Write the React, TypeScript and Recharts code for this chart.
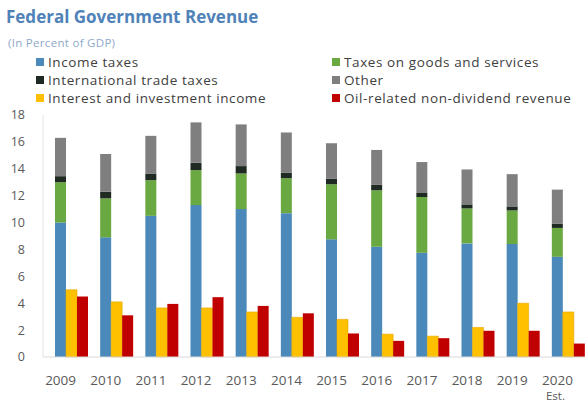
import { BarChart, Bar, XAxis, YAxis } from 'recharts';

const years = ['2009', '2010', '2011', '2012', '2013', '2014', '2015', '2016', '2017', '2018', '2019', '2020'];
const estimateYears = ['2020'];

// stacked parts, bottom to top
const incomeTaxes = [10.0, 8.9, 10.5, 11.3, 11.0, 10.7, 8.75, 8.2, 7.75, 8.45, 8.4, 7.45];
const goodsServices = [3.0, 2.9, 2.65, 2.6, 2.65, 2.6, 4.1, 4.2, 4.15, 2.6, 2.5, 2.15];
const tradeTaxes = [0.45, 0.5, 0.5, 0.55, 0.55, 0.4, 0.4, 0.4, 0.3, 0.3, 0.3, 0.3];
const otherRevenue = [2.85, 2.8, 2.8, 3.0, 3.1, 3.0, 2.65, 2.6, 2.3, 2.6, 2.4, 2.55];

// side bars
const interestIncome = [5.0, 4.1, 3.65, 3.65, 3.35, 2.95, 2.8, 1.7, 1.55, 2.2, 4.0, 3.35];
const oilRevenue = [4.5, 3.1, 3.95, 4.45, 3.8, 3.25, 1.75, 1.2, 1.4, 1.95, 1.95, 1.0];

const yTicks = [0, 2, 4, 6, 8, 10, 12, 14, 16, 18];

const data = years.map((year, i) => ({
  year,
  income: incomeTaxes[i],
  goods: goodsServices[i],
  trade: tradeTaxes[i],
  other: otherRevenue[i],
  interest: interestIncome[i],
  oil: oilRevenue[i],
}));

const colors = {
  income: '#4A89BA',
  goods: '#6AA942',
  trade: '#1F2B22',
  other: '#7F7F7F',
  interest: '#FFC000',
  oil: '#C00000',
};

const legendLeft = [
  { label: 'Income taxes', color: colors.income },
  { label: 'International trade taxes', color: colors.trade },
  { label: 'Interest and investment income', color: colors.interest },
];
const legendRight = [
  { label: 'Taxes on goods and services', color: colors.goods },
  { label: 'Other', color: colors.other },
  { label: 'Oil-related non-dividend revenue', color: colors.oil },
];

const font = '"Open Sans", "Noto Sans", sans-serif';

function YearTick({ x, y, payload }: any) {
  const cx = x - 11;
  return (
    <g>
      <text x={cx} y={y} dy="0.71em" textAnchor="middle" fill="#595959" fontSize={13.5} fontFamily={font}>
        {payload.value}
      </text>
      {estimateYears.includes(payload.value) && (
        <text x={cx - 2} y={y + 17} dy="0.71em" textAnchor="middle" fill="#595959" fontSize={11.5} fontFamily={font}>
          Est.
        </text>
      )}
    </g>
  );
}

function LegendColumn({ items, left }: { items: { label: string; color: string }[]; left: number }) {
  return (
    <div style={{ position: 'absolute', left, top: 53 }}>
      {items.map((it) => (
        <div key={it.label} style={{ display: 'flex', alignItems: 'center', height: 18 }}>
          <span style={{ width: 8, height: 8, background: it.color, marginRight: 4 }} />
          <span style={{ fontSize: 13.5, letterSpacing: 0.6, color: '#404040', fontFamily: font }}>{it.label}</span>
        </div>
      ))}
    </div>
  );
}

export default function App() {
  return (
    <div
      style={{
        position: 'absolute',
        left: 0,
        top: 0,
        width: 585,
        height: 407,
        overflow: 'hidden',
        background: '#fff',
        fontFamily: font,
      }}
    >
      <div style={{ position: 'absolute', left: 6, top: 5, fontSize: 17, fontWeight: 700, color: '#4F82B8' }}>
        Federal Government Revenue
      </div>
      <div style={{ position: 'absolute', left: 8, top: 35, fontSize: 11.5, letterSpacing: 0.3, color: '#8EA9CB' }}>
        (In Percent of GDP)
      </div>
      <LegendColumn items={legendLeft} left={36} />
      <LegendColumn items={legendRight} left={332} />
      <div style={{ position: 'absolute', left: 0, top: 0 }}>
        <BarChart
          width={600}
          height={407}
          data={data}
          margin={{ top: 115, right: 9, bottom: 20, left: 0 }}
          barGap={0}
          barSize={11}
        >
          <XAxis
            dataKey="year"
            interval={0}
            height={30}
            padding={{ left: 6, right: 0 }}
            tickLine={false}
            tickMargin={12}
            axisLine={{ stroke: '#D9D9D9' }}
            tick={<YearTick />}
          />
          <YAxis
            width={43}
            domain={[0, 18]}
            ticks={yTicks}
            interval={0}
            tickLine={false}
            tickMargin={12}
            axisLine={{ stroke: '#E3E3E3' }}
            tick={{ fill: '#595959', fontSize: 12.5, fontFamily: font }}
          />
          <Bar dataKey="income" stackId="rev" fill={colors.income} isAnimationActive={false} />
          <Bar dataKey="goods" stackId="rev" fill={colors.goods} isAnimationActive={false} />
          <Bar dataKey="trade" stackId="rev" fill={colors.trade} isAnimationActive={false} />
          <Bar dataKey="other" stackId="rev" fill={colors.other} isAnimationActive={false} />
          <Bar dataKey="interest" fill={colors.interest} stroke="#E2A700" strokeWidth={0.6} isAnimationActive={false} />
          <Bar dataKey="oil" fill={colors.oil} isAnimationActive={false} />
        </BarChart>
      </div>
    </div>
  );
}
